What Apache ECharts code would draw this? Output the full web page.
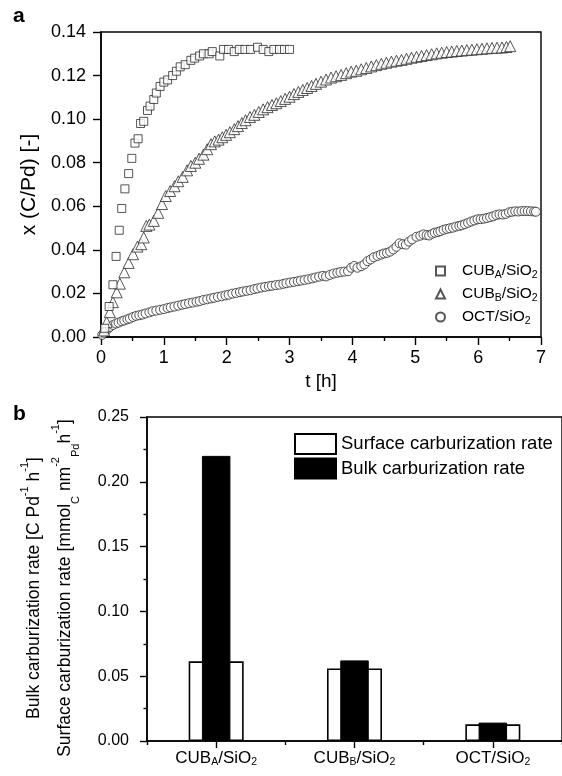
<!DOCTYPE html>
<html><head><meta charset="utf-8">
<script src="https://cdn.jsdelivr.net/npm/echarts@6/dist/echarts.min.js"></script>
<style>html,body{margin:0;padding:0;background:#fff}#c{width:562px;height:776px}</style>
</head><body><div id="c"></div>
<script>
const FONT = 'Liberation Sans, Arial, Helvetica, sans-serif';

// ---- Panel a: carbon uptake x(C/Pd) vs time ----
const tCubA = [0.06,0.13,0.19,0.24,0.29,0.33,0.38,0.44,0.49,0.54,0.59,0.63,0.68,0.74,0.78,0.84,0.88,0.94,1.00,1.06,1.14,1.20,1.26,1.34,1.43,1.49,1.57,1.63,1.72,1.77,1.89,1.95,2.03,2.12,2.20,2.29,2.38,2.49,2.58,2.67,2.75,2.84,2.92,3.00];
const xCubA = [0.004,0.014,0.024,0.037,0.049,0.059,0.068,0.075,0.082,0.089,0.091,0.098,0.099,0.104,0.106,0.109,0.112,0.115,0.117,0.118,0.120,0.122,0.124,0.125,0.127,0.128,0.129,0.130,0.130,0.131,0.129,0.132,0.132,0.131,0.132,0.132,0.132,0.133,0.132,0.131,0.132,0.132,0.132,0.132];

const tCubB = [0.05,0.09,0.14,0.19,0.25,0.30,0.37,0.44,0.51,0.58,0.64,0.68,0.72,0.77,0.84,0.91,0.97,1.03,1.10,1.17,1.23,1.30,1.37,1.43,1.50,1.56,1.63,1.69,1.75,1.81,1.87,1.93,1.99,2.05,2.12,2.18,2.24,2.30,2.37,2.44,2.51,2.58,2.65,2.72,2.79,2.86,2.93,3.00,3.07,3.14,3.21,3.28,3.35,3.42,3.50,3.58,3.66,3.74,3.82,3.90,3.98,4.06,4.14,4.22,4.30,4.38,4.46,4.54,4.62,4.70,4.78,4.86,4.94,5.02,5.10,5.18,5.26,5.34,5.42,5.50,5.58,5.66,5.74,5.82,5.90,5.98,6.06,6.14,6.22,6.30,6.38,6.45,6.51];
const xCubB = [0.003,0.0068,0.0114,0.016,0.0205,0.0245,0.0297,0.034,0.038,0.0415,0.0426,0.0457,0.0510,0.0516,0.0533,0.0570,0.0610,0.0647,0.0670,0.0692,0.0715,0.0735,0.0765,0.0785,0.0800,0.0818,0.0837,0.0862,0.0885,0.0898,0.0906,0.0917,0.0928,0.0940,0.0954,0.0968,0.0982,0.0995,0.1010,0.1020,0.1033,0.1045,0.1055,0.1065,0.1073,0.1083,0.1093,0.1103,0.1115,0.1125,0.1134,0.1143,0.1152,0.1162,0.1172,0.1182,0.1191,0.1197,0.1203,0.1211,0.1218,0.1222,0.1229,0.1235,0.1242,0.1248,0.1254,0.1259,0.1264,0.1268,0.1272,0.1277,0.1282,0.1286,0.1290,0.1294,0.1298,0.1302,0.1305,0.1308,0.1310,0.1313,0.1315,0.1317,0.1319,0.1321,0.1323,0.1325,0.1327,0.1328,0.1329,0.1331,0.1335];

const tOct = [0.02,0.05,0.08,0.11,0.14,0.19,0.24,0.28,0.33,0.37,0.42,0.46,0.51,0.56,0.61,0.66,0.71,0.77,0.82,0.88,0.94,1.00,1.06,1.11,1.17,1.23,1.29,1.34,1.40,1.46,1.52,1.57,1.63,1.69,1.75,1.80,1.86,1.92,1.98,2.03,2.09,2.15,2.21,2.26,2.32,2.38,2.44,2.49,2.55,2.61,2.67,2.72,2.78,2.84,2.90,2.95,3.01,3.07,3.13,3.18,3.24,3.30,3.36,3.41,3.47,3.53,3.58,3.64,3.70,3.76,3.81,3.87,3.93,3.98,4.03,4.08,4.14,4.19,4.24,4.29,4.34,4.40,4.45,4.50,4.55,4.60,4.65,4.70,4.75,4.80,4.85,4.90,4.95,5.02,5.08,5.13,5.18,5.22,5.27,5.31,5.36,5.40,5.45,5.50,5.55,5.60,5.65,5.70,5.74,5.79,5.84,5.89,5.94,5.99,6.04,6.09,6.14,6.19,6.24,6.29,6.34,6.39,6.44,6.49,6.54,6.59,6.64,6.69,6.74,6.79,6.84,6.89,6.92];
const xOct = [0.001,0.002,0.003,0.0038,0.0046,0.0055,0.0062,0.0066,0.0072,0.0076,0.0081,0.0085,0.0092,0.0097,0.0100,0.0103,0.0108,0.0113,0.0118,0.0121,0.0125,0.0128,0.0133,0.0136,0.0140,0.0144,0.0148,0.0151,0.0155,0.0158,0.0162,0.0165,0.0170,0.0173,0.0177,0.0180,0.0184,0.0187,0.0191,0.0194,0.0199,0.0202,0.0206,0.0209,0.0212,0.0215,0.0220,0.0223,0.0227,0.0230,0.0233,0.0235,0.0238,0.0240,0.0244,0.0247,0.0250,0.0253,0.0256,0.0259,0.0262,0.0265,0.0269,0.0273,0.0277,0.0281,0.0278,0.0285,0.0291,0.0295,0.0298,0.0300,0.0302,0.0318,0.0326,0.0318,0.0325,0.0333,0.0348,0.0356,0.0366,0.0372,0.0378,0.0383,0.0386,0.0392,0.0402,0.0414,0.0430,0.0426,0.0424,0.0438,0.0448,0.0460,0.0465,0.0471,0.0468,0.0466,0.0474,0.0479,0.0482,0.0486,0.0492,0.0496,0.0499,0.0502,0.0507,0.0510,0.0513,0.0518,0.0524,0.0530,0.0535,0.0540,0.0541,0.0543,0.0546,0.0550,0.0554,0.0560,0.0563,0.0562,0.0565,0.0572,0.0575,0.0577,0.0576,0.0578,0.0578,0.0578,0.0577,0.0576,0.0575];

// ---- Panel b: carburization rates ----
const barCategories = ['CUBA', 'CUBB', 'OCT'];
const surfaceRate = [0.0615, 0.056, 0.0129];
const bulkRate = [0.220, 0.0622, 0.0142];

const richLabel = {
  CUBA: '{n|CUB}{s|A}{n|/SiO}{s|2}',
  CUBB: '{n|CUB}{s|B}{n|/SiO}{s|2}',
  OCT: '{n|OCT/SiO}{s|2}'
};
const pairs = (t, v) => t.map((x, i) => [x, v[i]]);

const chart = echarts.init(document.getElementById('c'), null, {renderer: 'canvas'});
const axisLineStyle = {color: '#000', width: 1.6};
const tickStyle = {color: '#000', width: 1.4};
const markStyle = {color: '#fff', borderColor: '#2a2a2a', borderWidth: 1};

chart.setOption({
  animation: false,
  backgroundColor: '#fff',
  textStyle: {fontFamily: FONT, color: '#000'},
  title: [
    {text: 'a', left: 13, top: 6, padding: 0, textStyle: {fontSize: 21, fontWeight: 'bold', fontFamily: FONT, color: '#000'}},
    {text: 'b', left: 13, top: 404, padding: 0, textStyle: {fontSize: 21, fontWeight: 'bold', fontFamily: FONT, color: '#000'}}
  ],
  grid: [
    {left: 101, right: 21, top: 32, height: 305, show: true, borderColor: '#000', borderWidth: 1.4},
    {left: 147, right: -1, top: 417, height: 324, show: true, borderColor: '#000', borderWidth: 1.4}
  ],
  legend: [
    {
      data: ['CUBA', 'CUBB', 'OCT'], orient: 'vertical', left: 430, top: 258,
      itemWidth: 9, itemHeight: 9, itemGap: 5, selectedMode: false,
      formatter: n => '{g| }' + richLabel[n],
      textStyle: {fontFamily: FONT, color: '#000', rich: {
        g: {width: 12, fontSize: 15.5, lineHeight: 20},
        n: {fontSize: 15.5, lineHeight: 20, fontFamily: FONT, color: '#000'},
        s: {fontSize: 10.5, lineHeight: 8, verticalAlign: 'bottom', fontFamily: FONT, color: '#000'}
      }}
    },
    {
      data: ['Surface carburization rate', 'Bulk carburization rate'], orient: 'vertical', left: 289, top: 428,
      itemWidth: 41, itemHeight: 20, itemGap: 2.5, icon: 'rect', selectedMode: false,
      textStyle: {fontSize: 18.5, fontFamily: FONT, color: '#000'}
    }
  ],
  xAxis: [
    {
      type: 'value', gridIndex: 0, min: 0, max: 7, interval: 1,
      axisLine: {show: true, onZero: false, lineStyle: axisLineStyle},
      axisTick: {show: true, inside: false, length: 8, lineStyle: tickStyle},
      minorTick: {show: true, splitNumber: 2, length: 4, lineStyle: tickStyle},
      splitLine: {show: false},
      axisLabel: {fontSize: 18, fontFamily: FONT, color: '#000', margin: 12},
      name: 't [h]', nameLocation: 'middle', nameGap: 35,
      nameTextStyle: {fontSize: 19, fontFamily: FONT, color: '#000'}
    },
    {
      type: 'category', gridIndex: 1, data: barCategories, position: 'bottom',
      axisLine: {show: true, lineStyle: axisLineStyle},
      axisTick: {show: true, alignWithLabel: true, length: 7, lineStyle: tickStyle},
      axisLabel: {interval: 0, margin: 7, formatter: v => richLabel[v], rich: {
        n: {fontSize: 17, lineHeight: 20, fontFamily: FONT, color: '#000'},
        s: {fontSize: 10.5, lineHeight: 8, padding: [19, 0, 0, 0], verticalAlign: 'bottom', fontFamily: FONT, color: '#000'}
      }},
      splitLine: {show: false}
    },
    {
      type: 'category', gridIndex: 1, data: barCategories, position: 'bottom',
      axisLine: {show: false},
      axisTick: {show: true, alignWithLabel: false, interval: 0, length: 4, lineStyle: tickStyle},
      axisLabel: {show: false}, splitLine: {show: false}
    }
  ],
  yAxis: [
    {
      type: 'value', gridIndex: 0, min: 0, max: 0.14, interval: 0.02,
      axisLine: {show: true, lineStyle: axisLineStyle},
      axisTick: {show: true, inside: false, length: 8, lineStyle: tickStyle},
      splitLine: {show: false},
      axisLabel: {fontSize: 18, fontFamily: FONT, color: '#000', margin: 15, formatter: v => v.toFixed(2)},
      name: 'x (C/Pd) [-]', nameLocation: 'middle', nameGap: 60, nameRotate: 90,
      nameTextStyle: {fontSize: 21, fontFamily: FONT, color: '#000'}
    },
    {
      type: 'value', gridIndex: 1, min: 0, max: 0.25, interval: 0.05,
      axisLine: {show: true, lineStyle: axisLineStyle},
      axisTick: {show: true, inside: false, length: 7, lineStyle: tickStyle},
      minorTick: {show: true, splitNumber: 2, length: 3.5, lineStyle: tickStyle},
      splitLine: {show: false},
      axisLabel: {fontSize: 16, fontFamily: FONT, color: '#000', margin: 18, formatter: v => v.toFixed(2)},
      name: '{r|Bulk carburization rate [C Pd}{p|-1}{r| h}{p|-1}{r|]}\n{r|Surface carburization rate [mmol}{b|C}{r| nm}{p|-2}{b|Pd}{r|h}{p|-1}{r|]}',
      nameLocation: 'middle', nameGap: 66, nameRotate: 90,
      nameTextStyle: {fontFamily: FONT, color: '#000', padding: [0, 18, 0, 0], rich: {
        r: {fontSize: 17.5, lineHeight: 31, fontFamily: FONT, color: '#000'},
        p: {fontSize: 11, lineHeight: 24, verticalAlign: 'top', fontFamily: FONT, color: '#000'},
        b: {fontSize: 11, lineHeight: 20, verticalAlign: 'bottom', fontFamily: FONT, color: '#000'}
      }}
    }
  ],
  series: [
    {type: 'scatter', name: 'OCT', xAxisIndex: 0, yAxisIndex: 0, data: pairs(tOct, xOct),
      symbol: 'circle', symbolSize: 9, itemStyle: markStyle, emphasis: {disabled: true}},
    {type: 'scatter', name: 'CUBB', xAxisIndex: 0, yAxisIndex: 0, data: pairs(tCubB, xCubB),
      symbol: 'triangle', symbolSize: 11, itemStyle: markStyle, emphasis: {disabled: true}},
    {type: 'scatter', name: 'CUBA', xAxisIndex: 0, yAxisIndex: 0, data: pairs(tCubA, xCubA),
      symbol: 'rect', symbolSize: 8, itemStyle: markStyle, emphasis: {disabled: true}},
    {type: 'bar', name: 'Surface carburization rate', xAxisIndex: 2, yAxisIndex: 1, data: surfaceRate, barWidth: 55,
      itemStyle: {color: '#fff', borderColor: '#000', borderWidth: 1.6}, emphasis: {disabled: true}},
    {type: 'bar', name: 'Bulk carburization rate', xAxisIndex: 1, yAxisIndex: 1, data: bulkRate, barWidth: 28.5,
      itemStyle: {color: '#000', borderColor: '#000', borderWidth: 1}, emphasis: {disabled: true}}
  ]
});
</script></body></html>
